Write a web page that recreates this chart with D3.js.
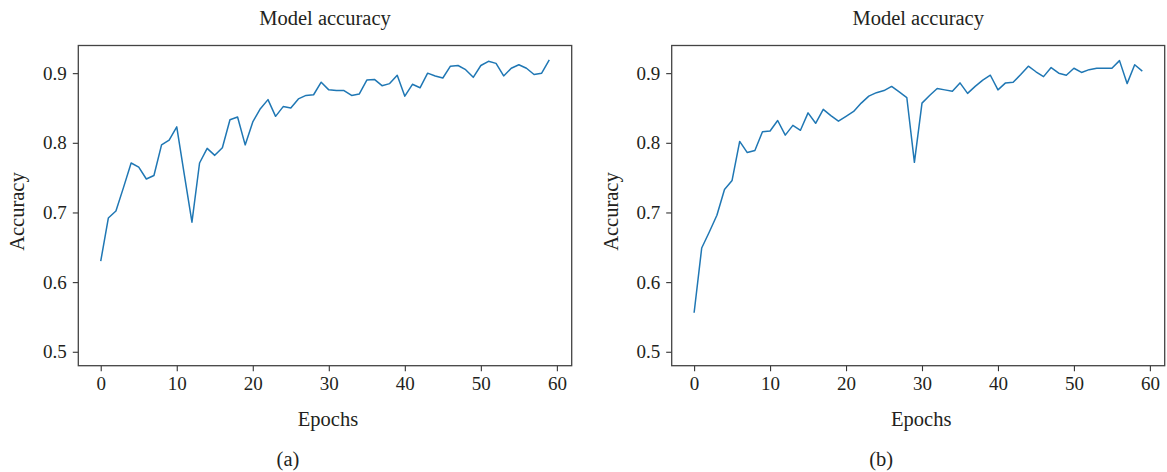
<!DOCTYPE html>
<html>
<head>
<meta charset="utf-8">
<script src="https://cdn.jsdelivr.net/npm/d3@7"></script>
<style>
  body { margin: 0; background: #fff; }
  svg { display: block; }
  text { font-family: "Liberation Serif", "Times New Roman", serif; fill: #231f20; }
</style>
</head>
<body>
<div id="chart"></div>
<script>
// epochs 0..59
var epochs = d3.range(60);

// panel (a) accuracy per epoch
var accA = [0.630, 0.692, 0.702, 0.736, 0.771, 0.765, 0.748, 0.753, 0.797, 0.804,
            0.823, 0.754, 0.686, 0.771, 0.792, 0.782, 0.793, 0.833, 0.837, 0.797,
            0.830, 0.849, 0.862, 0.838, 0.852, 0.850, 0.863, 0.868, 0.869, 0.887,
            0.876, 0.875, 0.875, 0.868, 0.870, 0.890, 0.891, 0.882, 0.885, 0.897,
            0.867, 0.884, 0.879, 0.900, 0.896, 0.893, 0.910, 0.911, 0.905, 0.894,
            0.911, 0.917, 0.914, 0.896, 0.907, 0.912, 0.907, 0.898, 0.900, 0.919];

// panel (b) accuracy per epoch
var accB = [0.556, 0.649, 0.672, 0.696, 0.733, 0.746, 0.802, 0.786, 0.789, 0.816,
            0.817, 0.832, 0.811, 0.825, 0.818, 0.843, 0.828, 0.848, 0.839, 0.831,
            0.838, 0.845, 0.857, 0.867, 0.872, 0.875, 0.881, 0.873, 0.865, 0.772,
            0.857, 0.868, 0.878, 0.876, 0.874, 0.886, 0.871, 0.881, 0.890, 0.897,
            0.876, 0.886, 0.887, 0.898, 0.910, 0.902, 0.895, 0.908, 0.900, 0.897,
            0.907, 0.901, 0.905, 0.907, 0.907, 0.907, 0.918, 0.885, 0.912, 0.903];

var xTicks = [0, 10, 20, 30, 40, 50, 60];
var yTicks = [0.5, 0.6, 0.7, 0.8, 0.9];
var panelLabels = ["(a)", "(b)"];
var titleText = "Model accuracy";
var xLabel = "Epochs";
var yLabel = "Accuracy";

var W = 1167, H = 472;
var svg = d3.select('#chart').append('svg').attr('width', W).attr('height', H);

var panels = [
    {data: accA, left: 78.3, right: 571.7, label: panelLabels[0]},
    {data: accB, left: 671.7, right: 1164.7, label: panelLabels[1]}
];

panels.forEach(function(p){
    var top = 45.5, bottom = 365.7;
    var x = d3.scaleLinear().domain([-2.95, 61.95]).range([p.left, p.right]);
    var y = d3.scaleLinear().domain([0.48, 0.9397]).range([bottom, top]);
    var g = svg.append('g');

    // line
    var line = d3.line().x(function(d, i){ return x(epochs[i]); }).y(function(d){ return y(d); });
    g.append('path').datum(p.data)
        .attr('d', line)
        .attr('fill', 'none')
        .attr('stroke', '#1f77b4')
        .attr('stroke-width', 1.5)
        .attr('stroke-linejoin', 'round');

    // axes
    var xAxis = g.append('g').attr('transform', 'translate(0,' + bottom + ')')
        .call(d3.axisBottom(x).tickValues(xTicks).tickSize(5.5).tickPadding(5).tickFormat(d3.format('d')));
    var yAxis = g.append('g').attr('transform', 'translate(' + p.left + ',0)')
        .call(d3.axisLeft(y).tickValues(yTicks).tickSize(5.5).tickPadding(6).tickFormat(d3.format('.1f')));
    [xAxis, yAxis].forEach(function(a){
        a.select('.domain').remove();
        a.selectAll('line').attr('stroke', '#333').attr('stroke-width', 1.1);
        a.selectAll('text').style('font-size', '19px').attr('fill', '#231f20')
            .style('font-family', '"Liberation Serif", serif');
    });

    // frame
    g.append('rect')
        .attr('x', p.left).attr('y', top)
        .attr('width', p.right - p.left).attr('height', bottom - top)
        .attr('fill', 'none').attr('stroke', '#444').attr('stroke-width', 1.3);

    var cx = (p.left + p.right) / 2;
    g.append('text').attr('x', cx).attr('y', 25).attr('text-anchor', 'middle')
        .style('font-size', '20.5px').text(titleText);
    g.append('text').attr('x', cx + 3).attr('y', 426).attr('text-anchor', 'middle')
        .style('font-size', '20.5px').text(xLabel);
    g.append('text').attr('transform', 'translate(24,' + ((top + bottom) / 2 + 6) + ') rotate(-90)')
        .attr('x', 0).attr('y', 0)
        .attr('transform', 'translate(' + (p.left - 54) + ',' + ((top + bottom) / 2 + 6) + ') rotate(-90)')
        .attr('text-anchor', 'middle')
        .style('font-size', '20.5px').text(yLabel);
    g.append('text').attr('x', cx - 37).attr('y', 466).attr('text-anchor', 'middle')
        .style('font-size', '20.5px').text(p.label);
});
</script>
</body>
</html>
